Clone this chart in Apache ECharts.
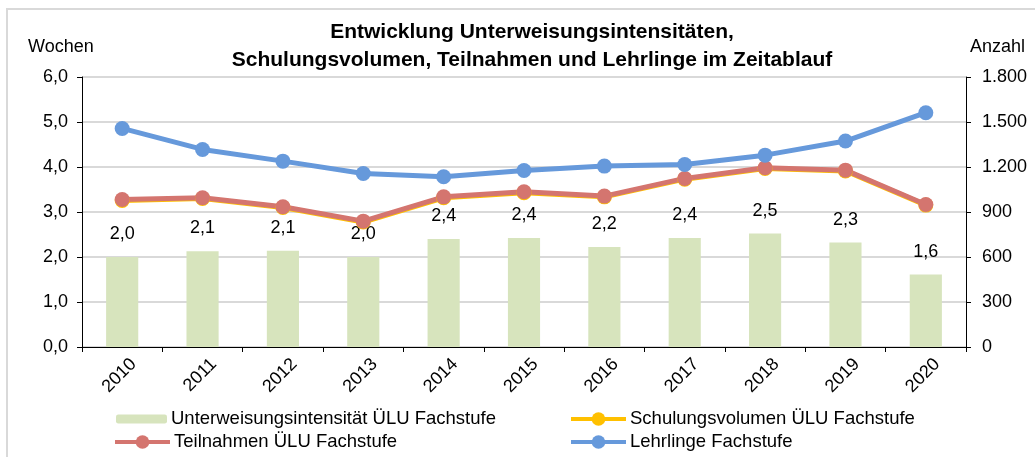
<!DOCTYPE html>
<html>
<head>
<meta charset="utf-8">
<script src="https://cdn.jsdelivr.net/npm/echarts@6/dist/echarts.min.js"></script>
<style>
  html, body { margin: 0; padding: 0; background: #fff; }
  #chart { width: 1035px; height: 457px; }
</style>
</head>
<body>
<div id="chart"></div>
<script>
// Jahre (Kategorien)
const years = ['2010', '2011', '2012', '2013', '2014', '2015', '2016', '2017', '2018', '2019', '2020'];
// Unterweisungsintensität in Wochen (linke Achse)
const intensitaet = [2.00, 2.13, 2.14, 2.00, 2.40, 2.42, 2.22, 2.42, 2.52, 2.32, 1.61];
// Anzahlen (rechte Achse)
const schulungsvolumen = [977, 990, 930, 833, 995, 1029, 1001, 1119, 1190, 1174, 946];
const teilnahmen = [983, 995, 935, 839, 1001, 1035, 1006, 1124, 1195, 1179, 950];
const lehrlinge = [1457, 1317, 1239, 1157, 1135, 1177, 1206, 1217, 1279, 1373, 1562];
// Achsenbeschriftungen
const leftTicks = [0, 1, 2, 3, 4, 5, 6];
const rightTicks = [0, 300, 600, 900, 1200, 1500, 1800];

const names = {
  bar: 'Unterweisungsintensität ÜLU Fachstufe',
  schul: 'Schulungsvolumen ÜLU Fachstufe',
  teil: 'Teilnahmen ÜLU Fachstufe',
  lehr: 'Lehrlinge Fachstufe'
};
const colors = { bar: '#d7e4bd', schul: '#ffc000', teil: '#d4756f', lehr: '#6699db' };

const FONT = '"Liberation Sans", Arial, sans-serif';
const FS = 18;
const fmtDe1 = v => v.toFixed(1).replace('.', ',');
const fmtThousands = v => String(v).replace(/\B(?=(\d{3})+(?!\d))/g, '.');

const chart = echarts.init(document.getElementById('chart'));

function legendAt(name, left, top, isBar) {
  return {
    data: [name],
    left: left, top: top,
    orient: 'horizontal',
    padding: 0,
    itemWidth: isBar ? 51 : 55,
    itemHeight: isBar ? 9 : 17,
    itemGap: 0,
    selectedMode: false,
    lineStyle: { width: 4 },
    textStyle: { fontFamily: FONT, fontSize: 18.5, color: '#000', lineHeight: 20, padding: [0, 0, 0, -1] }
  };
}

const lineSeries = (key, data) => ({
  name: names[key],
  type: 'line',
  yAxisIndex: 1,
  data: data,
  symbol: 'circle',
  symbolSize: 15,
  lineStyle: { color: colors[key], width: 5 },
  itemStyle: { color: colors[key] },
  emphasis: { disabled: true },
  animation: false
});

const axisText = { fontFamily: FONT, fontSize: FS, color: '#000' };

chart.setOption({
  animation: false,
  textStyle: { fontFamily: FONT },
  graphic: [{
    type: 'rect',
    shape: { x: 7, y: 9, width: 1040, height: 470 },
    style: { fill: 'none', stroke: '#d9d9d9', lineWidth: 2 },
    silent: true, z: -10
  }, {
    type: 'text',
    left: 28, top: 38,
    style: Object.assign({ text: 'Wochen' }, axisText),
    silent: true
  }, {
    type: 'text',
    left: 970, top: 38,
    style: Object.assign({ text: 'Anzahl' }, axisText),
    silent: true
  }],
  title: {
    text: 'Entwicklung Unterweisungsintensitäten,\nSchulungsvolumen, Teilnahmen und Lehrlinge im Zeitablauf',
    left: 527, textAlign: 'center', top: 13,
    textStyle: { fontFamily: FONT, fontSize: 21, fontWeight: 'bold', color: '#000', lineHeight: 28 }
  },
  legend: [
    legendAt(names.bar, 116, 409, true),
    legendAt(names.schul, 569, 409, false),
    legendAt(names.teil, 113, 432, false),
    legendAt(names.lehr, 569, 432, false)
  ],
  grid: { left: 82, right: 69, top: 77, bottom: 110, containLabel: false },
  xAxis: {
    type: 'category',
    data: years,
    boundaryGap: true,
    axisLine: { lineStyle: { color: '#000', width: 1 } },
    axisTick: { show: true, alignWithLabel: false, length: 5, lineStyle: { color: '#000' } },
    axisLabel: Object.assign({ rotate: 45, margin: 3, verticalAlign: 'top', padding: [7, 0, 0, 0] }, axisText),
    splitLine: { show: false }
  },
  yAxis: [{
    type: 'value',
    min: leftTicks[0], max: leftTicks[leftTicks.length - 1], interval: 1,
    axisLine: { show: true, lineStyle: { color: '#000' } },
    axisTick: { show: true, length: 5, lineStyle: { color: '#000' } },
    axisLabel: Object.assign({ margin: 14, formatter: v => fmtDe1(v) }, axisText),
    splitLine: { show: true, lineStyle: { color: '#d9d9d9', width: 2 } }
  }, {
    type: 'value',
    min: rightTicks[0], max: rightTicks[rightTicks.length - 1], interval: 300,
    position: 'right',
    axisLine: { show: true, lineStyle: { color: '#000' } },
    axisTick: { show: true, length: 5, lineStyle: { color: '#000' } },
    axisLabel: Object.assign({ margin: 16, formatter: v => fmtThousands(v) }, axisText),
    splitLine: { show: false }
  }],
  series: [{
    name: names.bar,
    type: 'bar',
    yAxisIndex: 0,
    data: intensitaet,
    barWidth: '40%',
    itemStyle: { color: colors.bar },
    label: Object.assign({
      show: true, position: 'top', distance: 14,
      formatter: p => fmtDe1(p.value)
    }, axisText),
    emphasis: { disabled: true },
    z: 1
  },
    lineSeries('schul', schulungsvolumen),
    lineSeries('teil', teilnahmen),
    lineSeries('lehr', lehrlinge)
  ]
});
</script>
</body>
</html>
